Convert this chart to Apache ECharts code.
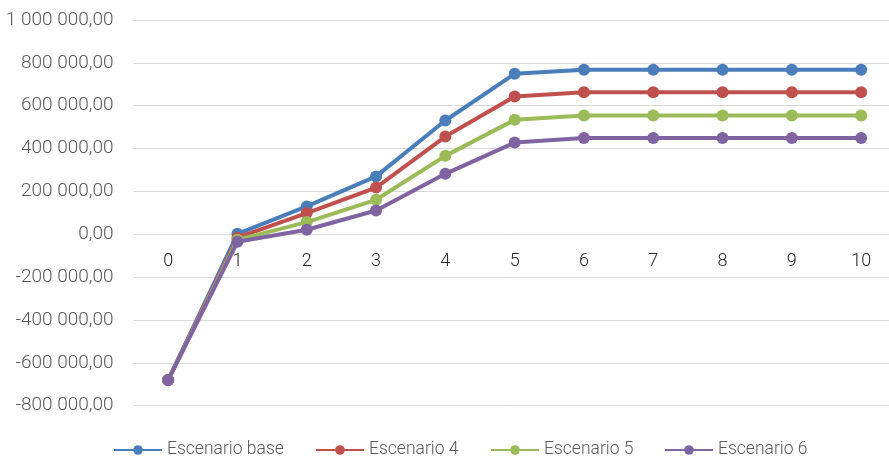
<!DOCTYPE html>
<html>
<head>
<meta charset="utf-8">
<script src="https://cdn.jsdelivr.net/npm/echarts@6/dist/echarts.min.js"></script>
<style>
  html, body { margin: 0; padding: 0; background: #fff; }
  #chart { width: 889px; height: 458px; }
</style>
</head>
<body>
<div id="chart"></div>
<script>
// Periods (years) on the horizontal axis
const periods = ['0', '1', '2', '3', '4', '5', '6', '7', '8', '9', '10'];

// Cumulative cash flow per scenario
const escenarioBase = [-680000, 2000, 130000, 270000, 531000, 749000, 768000, 768000, 768000, 768000, 768000];
const escenario4    = [-680000, -16000, 99000, 218000, 456000, 643000, 663000, 663000, 663000, 663000, 663000];
const escenario5    = [-680000, -26000, 57000, 161000, 366000, 534000, 554000, 554000, 554000, 554000, 554000];
const escenario6    = [-680000, -35000, 21000, 111000, 282000, 428000, 449000, 449000, 449000, 449000, 449000];

const seriesNames = ['Escenario base', 'Escenario 4', 'Escenario 5', 'Escenario 6'];
const seriesColors = ['#4A7EBB', '#C0504D', '#9BBB59', '#8064A2'];
const seriesData = [escenarioBase, escenario4, escenario5, escenario6];

const textColor = '#595959';
const fontFamily = 'Roboto, "Noto Sans", sans-serif';

// "1 000 000,00" style: space thousands separator, comma decimals
function formatNumber(v) {
  const neg = v < 0;
  const s = Math.abs(Math.round(v)).toString().replace(/\B(?=(\d{3})+(?!\d))/g, ' ');
  return (neg ? '-' : '') + s + ',00';
}

// Plot area geometry (the last column runs slightly past the right edge)
const gridLeft = 133.5, gridTop = 20, gridWidth = 762.3, gridHeight = 385.7;
const yMin = -800000, yMax = 1000000;
// the category labels sit on the zero line
const zeroFromBottom = gridHeight * (0 - yMin) / (yMax - yMin);

// one legend entry per box so each keeps its own horizontal slot
const legendLefts = [113, 315, 490, 664];
const legends = seriesNames.map((name, i) => ({
  left: legendLefts[i],
  top: 441,
  padding: 0,
  itemWidth: 48,
  itemHeight: 12,
  itemGap: 6,
  textStyle: { color: textColor, fontSize: 17.5, fontFamily: fontFamily, fontWeight: 300 },
  data: [name]
}));

const chart = echarts.init(document.getElementById('chart'), null, { renderer: 'canvas' });

chart.setOption({
  animation: false,
  backgroundColor: '#ffffff',
  textStyle: { fontFamily: fontFamily },
  grid: {
    left: gridLeft, top: gridTop, width: gridWidth, height: gridHeight,
    containLabel: false, outerBoundsMode: 'none'
  },
  legend: legends,
  xAxis: {
    type: 'category',
    data: periods,
    boundaryGap: true,
    position: 'bottom',
    offset: -zeroFromBottom,
    axisLine: { show: false },
    axisTick: { show: false },
    axisLabel: { color: '#262626', fontSize: 18, margin: 18, fontFamily: fontFamily, fontWeight: 300 },
    splitLine: { show: false }
  },
  yAxis: {
    type: 'value',
    min: yMin,
    max: yMax,
    interval: 200000,
    axisLine: { show: false },
    axisTick: { show: false },
    axisLabel: {
      color: textColor,
      fontSize: 19,
      margin: 20,
      fontFamily: fontFamily,
      fontWeight: 300,
      formatter: formatNumber
    },
    splitLine: { lineStyle: { color: '#D9D9D9', width: 1 } }
  },
  series: seriesData.map((d, i) => ({
    name: seriesNames[i],
    type: 'line',
    data: d,
    symbol: 'circle',
    symbolSize: 12,
    itemStyle: { color: seriesColors[i] },
    lineStyle: { color: seriesColors[i], width: 4 },
    z: 2 + i
  }))
});
</script>
</body>
</html>
